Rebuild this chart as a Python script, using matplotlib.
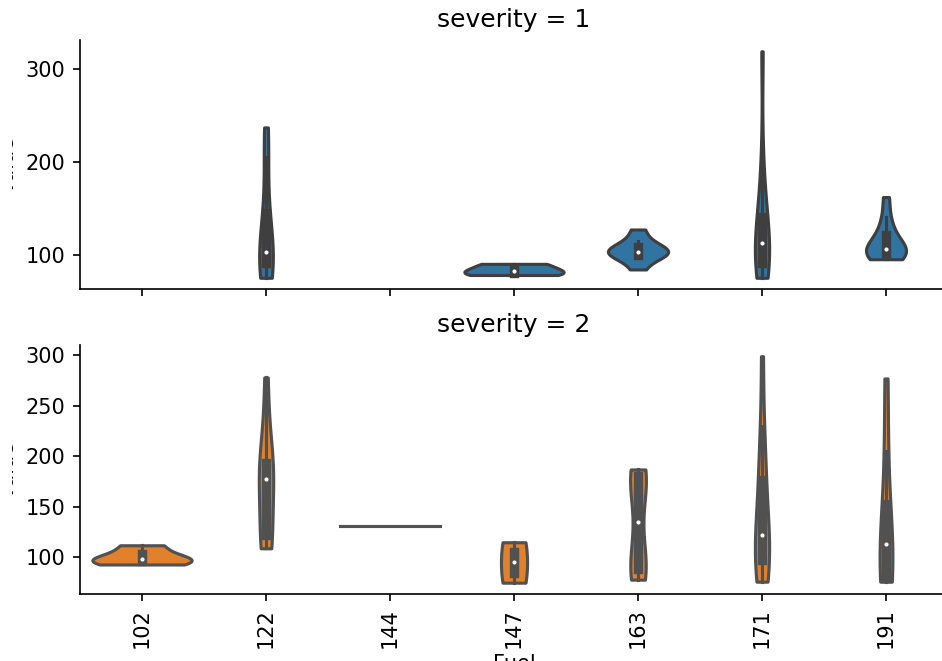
import colorsys

import matplotlib
matplotlib.use("Agg")
import matplotlib.pyplot as plt
import numpy as np
import pandas as pd
import seaborn as sns
from matplotlib.transforms import Bbox, TransformedBbox

fuel_order = [102, 122, 144, 147, 163, 171, 191]
severity_levels = [1, 2]
severity_colors = ["#1f77b4", "#ff7f0e"]
yticks = [[100, 200, 300], [100, 150, 200, 250, 300]]

# severity 1 observations per fuel
s1_122 = [75, 86, 91, 98, 103, 108, 145, 205, 237]
s1_147 = [78, 82, 90]
s1_163 = [84, 96, 100, 102, 103, 105, 108, 115, 127]
s1_171 = [75, 82, 86, 90, 92, 96, 100, 112, 118, 125, 138, 143, 160, 200, 319]
s1_191 = [95, 97, 99, 102, 104, 105, 107, 110, 120, 126, 140, 162]

# severity 2 observations per fuel
s2_102 = [93, 97, 100, 112]
s2_122 = [109, 115, 120, 125, 170, 178, 182, 190, 196, 230, 278]
s2_144 = [131]
s2_147 = [75, 115]
s2_163 = [78, 80, 83, 86, 90, 95, 105, 125, 145, 165, 175, 180, 182, 184, 186, 187]
s2_171 = [76, 86, 92, 96, 100, 104, 115, 130, 140, 165, 180, 200, 230, 299]
s2_191 = [76, 77, 80, 105, 121, 135, 205, 277]

groups = {
    1: {122: s1_122, 147: s1_147, 163: s1_163, 171: s1_171, 191: s1_191},
    2: {102: s2_102, 122: s2_122, 144: s2_144, 147: s2_147,
        163: s2_163, 171: s2_171, 191: s2_191},
}

rows = []
for sev, by_fuel in groups.items():
    for fuel, vals in by_fuel.items():
        rows += [(fuel, sev, v) for v in vals]
df = pd.DataFrame(rows, columns=["Fuel", "severity", "value"])


def gray_for(color):
    # same rule seaborn uses for the outline colour
    r, g, b = matplotlib.colors.to_rgb(color)
    lum = colorsys.rgb_to_hls(r, g, b)[1] * .6
    return (lum, lum, lum)


def draw_box(ax, pos, vals, gray, lw=1.5):
    vals = np.asarray(vals, dtype=float)
    q25, q50, q75 = np.percentile(vals, [25, 50, 75])
    lim = 1.5 * (q75 - q25)
    lo = vals[vals >= q25 - lim].min()
    hi = vals[vals <= q75 + lim].max()
    ax.plot([pos, pos], [lo, hi], lw=lw, color=gray)
    ax.plot([pos, pos], [q25, q75], lw=lw * 3, color=gray)
    ax.scatter(pos, q50, zorder=3, color="white", edgecolor=gray, s=(lw * 2) ** 2)


fig, axes = plt.subplots(2, 1, sharex=True, figsize=(942 / 150, 661 / 150), dpi=150)

# the reference image is cropped on the left, only the foot of the y labels shows
label_clip = TransformedBbox(Bbox.from_extents(12 / 942, 0, 1, 1), fig.transFigure)

for ax, sev, color, ticks in zip(axes, severity_levels, severity_colors, yticks):
    sub = df[df["severity"] == sev]
    gray = gray_for(color)
    sns.violinplot(data=sub, x="Fuel", y="value", order=fuel_order, color=color,
                   cut=0, density_norm="area", common_norm=True, width=0.8,
                   inner=None, linewidth=1.5, linecolor=gray, ax=ax)
    for i, fuel in enumerate(fuel_order):
        vals = groups[sev].get(fuel)
        if vals is not None and len(vals) > 1:
            draw_box(ax, i, vals, gray)
    ax.set_xlim(-0.5, len(fuel_order) - 0.5)
    ax.set_yticks(ticks)
    ax.set_title(f"severity = {sev}")
    ax.set_ylabel("value")
    ax.yaxis.label.set_clip_on(True)
    ax.yaxis.label.set_clip_box(label_clip)
    sns.despine(ax=ax)

axes[0].set_xlabel("")
axes[1].set_xlabel("Fuel", labelpad=2.5)
axes[1].tick_params(axis="x", labelrotation=90)

fig.subplots_adjust(left=80 / 942, right=948 / 942, top=1 - 40 / 661,
                    bottom=1 - 594 / 661, hspace=0.224)
fig.savefig("out.png", dpi=150)
